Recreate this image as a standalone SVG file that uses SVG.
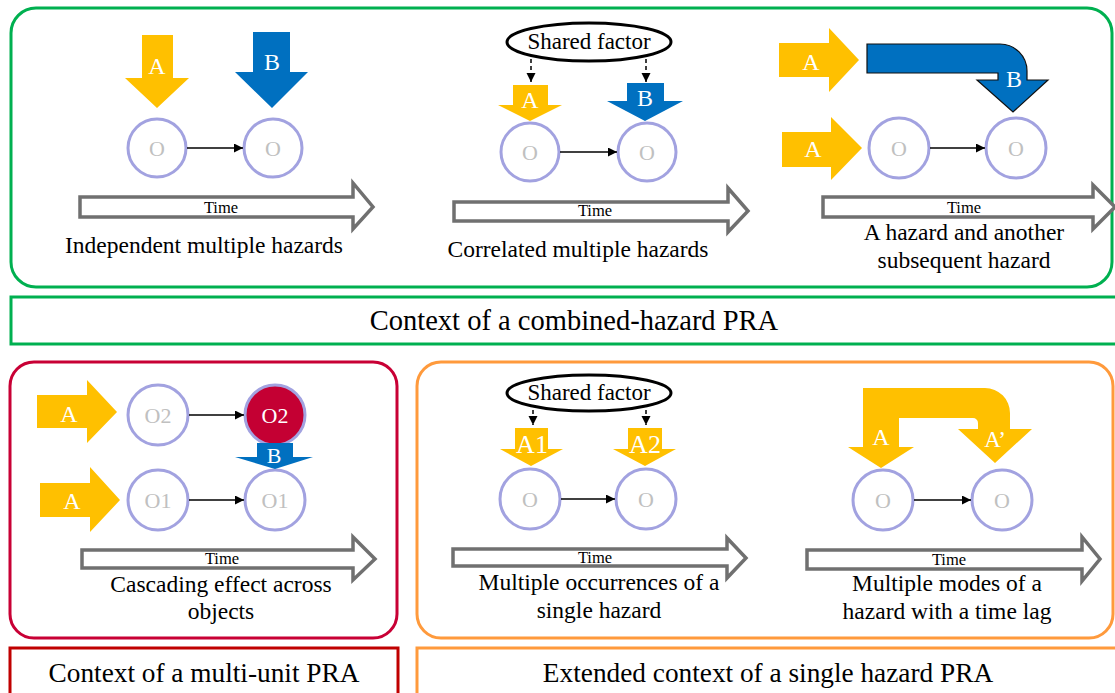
<svg xmlns="http://www.w3.org/2000/svg" width="1115" height="693" viewBox="0 0 1115 693">
  <defs>
    <marker id="tri" viewBox="0 0 10 10" refX="10" refY="5" markerWidth="10" markerHeight="9" markerUnits="userSpaceOnUse" orient="auto">
      <path d="M0,0 L10,5 L0,10 Z" fill="#000"/>
    </marker>
    <marker id="triSmall" viewBox="0 0 10 10" refX="10" refY="5" markerWidth="9" markerHeight="10" markerUnits="userSpaceOnUse" orient="auto">
      <path d="M0,0 L10,5 L0,10 Z" fill="#000"/>
    </marker>
  </defs>
  <style>
    text { font-family: "Liberation Serif", "Times New Roman", serif; text-anchor: middle; }
    .frame { fill: none; stroke-width: 3; }
    .green { stroke: #00B050; }
    .crimson { stroke: #C80035; }
    .darkred { stroke: #C00000; }
    .orange { stroke: #FF9A3C; }
    .yellow { fill: #FFC000; }
    .blue { fill: #0070C0; }
    .obj { fill: #fff; stroke: #A2A2E0; stroke-width: 3; }
    .objHit { fill: #C40033; stroke: #A2A2E0; stroke-width: 3; }
    .otxt { font-size: 22px; fill: #C0C0C0; }
    .otxtW { font-size: 22px; fill: #fff; }
    .lbl { font-size: 24px; fill: #fff; }
    .time { fill: #fff; stroke: #707070; stroke-width: 3.5; }
    .ttxt { font-size: 16.5px; fill: #000; }
    .cap { font-size: 23.5px; fill: #000; }
    .ban { font-size: 28.5px; fill: #000; }
    .banS { font-size: 27.3px; fill: #000; }
    .factor { fill: #fff; stroke: #000; stroke-width: 3; }
    .ftxt { font-size: 23px; fill: #000; }
    .link { stroke: #000; stroke-width: 1.5; fill: none; }
    .dash { stroke: #000; stroke-width: 1.5; fill: none; stroke-dasharray: 4 3; }
  </style>

  <!-- Frames and banners -->
  <g id="frames">
    <rect class="frame green" x="11" y="8" width="1101" height="279" rx="25"/>
    <rect class="frame green" x="11" y="297" width="1108" height="47"/>
    <rect class="frame crimson" x="10" y="362" width="387" height="276" rx="24"/>
    <rect class="frame darkred" x="10" y="648" width="388" height="60"/>
    <rect class="frame orange" x="417" y="362" width="696" height="276" rx="24"/>
    <rect class="frame orange" x="417" y="648" width="710" height="60"/>
  </g>

  <g id="banner-combined"><text class="ban" x="574" y="330">Context of a combined-hazard PRA</text></g>
  <g id="banner-multiunit"><text class="banS" x="204" y="682">Context of a multi-unit PRA</text></g>
  <g id="banner-extended"><text class="banS" x="768" y="682">Extended context of a single hazard PRA</text></g>

  <!-- Independent multiple hazards -->
  <g id="independent">
    <g id="ind-hazard-a">
      <polygon class="yellow" points="142,35 173,35 173,78 189,78 157,108 125,78 142,78"/>
      <text class="lbl" x="157" y="74">A</text>
    </g>
    <g id="ind-hazard-b">
      <polygon class="blue" points="253,32 290,32 290,72 308,72 272,108 235,72 253,72"/>
      <text class="lbl" x="272" y="70">B</text>
    </g>
    <g id="ind-obj-1"><circle class="obj" cx="157" cy="148" r="29"/><text class="otxt" x="157" y="156">O</text></g>
    <g id="ind-obj-2"><circle class="obj" cx="273" cy="148" r="29"/><text class="otxt" x="273" y="156">O</text></g>
    <g id="ind-time">
      <polygon class="time" points="80,197 353,197 353,183 373,207 353,229 353,217 80,217"/>
      <text class="ttxt" x="221" y="213">Time</text>
    </g>
    <text class="cap" x="204" y="253">Independent multiple hazards</text>
  </g>

  <!-- Correlated multiple hazards -->
  <g id="correlated">
    <g id="cor-factor">
      <ellipse class="factor" cx="589" cy="42" rx="82" ry="19"/>
      <text class="ftxt" x="589" y="49">Shared factor</text>
    </g>
    <g id="cor-hazard-a">
      <polygon class="yellow" points="513,85 548,85 548,105 562,105 530,121 498,105 513,105"/>
      <text class="lbl" x="530" y="108">A</text>
    </g>
    <g id="cor-hazard-b">
      <polygon class="blue" points="627,83 664,83 664,101 683,101 645,121 607,101 627,101"/>
      <text class="lbl" x="645" y="106">B</text>
    </g>
    <g id="cor-obj-1"><circle class="obj" cx="530" cy="152" r="29"/><text class="otxt" x="530" y="160">O</text></g>
    <g id="cor-obj-2"><circle class="obj" cx="647" cy="152" r="29"/><text class="otxt" x="647" y="160">O</text></g>
    <g id="cor-time">
      <polygon class="time" points="454,202 728,202 728,188 748,211 728,232 728,221 454,221"/>
      <text class="ttxt" x="595" y="216">Time</text>
    </g>
    <text class="cap" x="578" y="257">Correlated multiple hazards</text>
  </g>

  <!-- A hazard and another subsequent hazard -->
  <g id="subsequent">
    <g id="sub-hazard-a1">
      <polygon class="yellow" points="779,43 829,43 829,28 859,60 829,92 829,77 779,77"/>
      <text class="lbl" x="811" y="70">A</text>
    </g>
    <g id="sub-hazard-b">
      <path class="blue" stroke="#101010" stroke-width="1.2" d="M867,44 H1000 A27,27 0 0 1 1027,71 V80 H1048 L1013,112 L977,80 H998 V73 H867 Z"/>
      <text class="lbl" x="1014" y="87">B</text>
    </g>
    <g id="sub-hazard-a2">
      <polygon class="yellow" points="782,132 831,132 831,117 862,148 831,180 831,167 782,167"/>
      <text class="lbl" x="813" y="157">A</text>
    </g>
    <g id="sub-obj-1"><circle class="obj" cx="899" cy="148" r="30"/><text class="otxt" x="899" y="156">O</text></g>
    <g id="sub-obj-2"><circle class="obj" cx="1016" cy="148" r="30"/><text class="otxt" x="1016" y="156">O</text></g>
    <g id="sub-time">
      <polygon class="time" points="823,197 1093,197 1093,185 1115,207 1093,229 1093,217 823,217"/>
      <text class="ttxt" x="964" y="213">Time</text>
    </g>
    <text class="cap" x="964" y="240">A hazard and another</text>
    <text class="cap" x="964" y="268">subsequent hazard</text>
  </g>

  <!-- Cascading effect across objects -->
  <g id="cascading">
    <g id="cas-hazard-a1">
      <polygon class="yellow" points="37,395 87,395 87,380 117,412 87,443 87,428 37,428"/>
      <text class="lbl" x="69" y="422">A</text>
    </g>
    <g id="cas-hazard-a2">
      <polygon class="yellow" points="40,483 90,483 90,467 120,500 90,532 90,517 40,517"/>
      <text class="lbl" x="72" y="509">A</text>
    </g>
    <g id="cas-o2-before"><circle class="obj" cx="158" cy="415" r="30"/><text class="otxt" x="158" y="423">O2</text></g>
    <g id="cas-o2-after"><circle class="objHit" cx="275" cy="415" r="30"/><text class="otxtW" x="275" y="423">O2</text></g>
    <g id="cas-o1-before"><circle class="obj" cx="158" cy="500" r="30"/><text class="otxt" x="158" y="508">O1</text></g>
    <g id="cas-o1-after"><circle class="obj" cx="275" cy="500" r="30"/><text class="otxt" x="275" y="508">O1</text></g>
    <g id="cas-hazard-b">
      <polygon class="blue" points="257,443 293,443 293,457 313,457 275,469 235,457 257,457"/>
      <text class="lbl" x="274" y="463" style="font-size:22px">B</text>
    </g>
    <g id="cas-time">
      <polygon class="time" points="82,550 353,550 353,537 375,559 353,580 353,568 82,568"/>
      <text class="ttxt" x="222" y="564">Time</text>
    </g>
    <text class="cap" x="221" y="592">Cascading effect across</text>
    <text class="cap" x="221" y="619">objects</text>
  </g>

  <!-- Multiple occurrences of a single hazard -->
  <g id="occurrences">
    <g id="occ-factor">
      <ellipse class="factor" cx="589" cy="393" rx="82" ry="18"/>
      <text class="ftxt" x="589" y="400">Shared factor</text>
    </g>
    <g id="occ-hazard-a1">
      <polygon class="yellow" points="515,428 548,428 548,449 563,449 531,466 500,449 515,449"/>
      <text class="lbl" x="532" y="453" style="font-size:26px">A1</text>
    </g>
    <g id="occ-hazard-a2">
      <polygon class="yellow" points="628,428 662,428 662,449 676,449 645,466 613,449 628,449"/>
      <text class="lbl" x="645" y="453" style="font-size:26px">A2</text>
    </g>
    <g id="occ-obj-1"><circle class="obj" cx="530" cy="499" r="30"/><text class="otxt" x="530" y="507">O</text></g>
    <g id="occ-obj-2"><circle class="obj" cx="646" cy="499" r="30"/><text class="otxt" x="646" y="507">O</text></g>
    <g id="occ-time">
      <polygon class="time" points="453,549 727,549 727,538 746,558 727,578 727,566 453,566"/>
      <text class="ttxt" x="595" y="563">Time</text>
    </g>
    <text class="cap" x="599" y="590">Multiple occurrences of a</text>
    <text class="cap" x="599" y="618">single hazard</text>
  </g>

  <!-- Multiple modes of a hazard with a time lag -->
  <g id="modes">
    <g id="mod-hazard-lagged">
      <path class="yellow" d="M863,388 H985 A25,25 0 0 1 1010,413 V429 H1032 L995,463 L958,429 H978 V423 A5,5 0 0 0 973,418 H863 Z"/>
      <text class="lbl" x="995" y="447" style="font-size:23px">A’</text>
    </g>
    <g id="mod-hazard-a">
      <polygon class="yellow" points="863,418 899,418 899,447 914,447 881,468 848,447 863,447"/>
      <text class="lbl" x="881" y="445">A</text>
    </g>
    <g id="mod-obj-1"><circle class="obj" cx="883" cy="500" r="30"/><text class="otxt" x="883" y="508">O</text></g>
    <g id="mod-obj-2"><circle class="obj" cx="1002" cy="500" r="30"/><text class="otxt" x="1002" y="508">O</text></g>
    <g id="mod-time">
      <polygon class="time" points="807,550 1082,550 1082,537 1100,559 1082,581 1082,569 807,569"/>
      <text class="ttxt" x="949" y="565">Time</text>
    </g>
    <text class="cap" x="947" y="591">Multiple modes of a</text>
    <text class="cap" x="947" y="619">hazard with a time lag</text>
  </g>

  <!-- Connectors -->
  <g id="connectors">
    <line class="link" x1="187" y1="148" x2="243" y2="148" marker-end="url(#tri)"/>
    <line class="link" x1="560" y1="152" x2="617" y2="152" marker-end="url(#tri)"/>
    <line class="link" x1="930" y1="148" x2="985" y2="148" marker-end="url(#tri)"/>
    <line class="link" x1="189" y1="415" x2="244" y2="415" marker-end="url(#tri)"/>
    <line class="link" x1="189" y1="500" x2="244" y2="500" marker-end="url(#tri)"/>
    <line class="link" x1="561" y1="499" x2="615" y2="499" marker-end="url(#tri)"/>
    <line class="link" x1="914" y1="500" x2="971" y2="500" marker-end="url(#tri)"/>
    <line class="dash" x1="531" y1="59" x2="531" y2="82" marker-end="url(#triSmall)"/>
    <line class="dash" x1="646" y1="59" x2="646" y2="82" marker-end="url(#triSmall)"/>
    <line class="dash" x1="533" y1="410" x2="533" y2="425" marker-end="url(#triSmall)"/>
    <line class="dash" x1="646" y1="410" x2="646" y2="425" marker-end="url(#triSmall)"/>
  </g>
</svg>
